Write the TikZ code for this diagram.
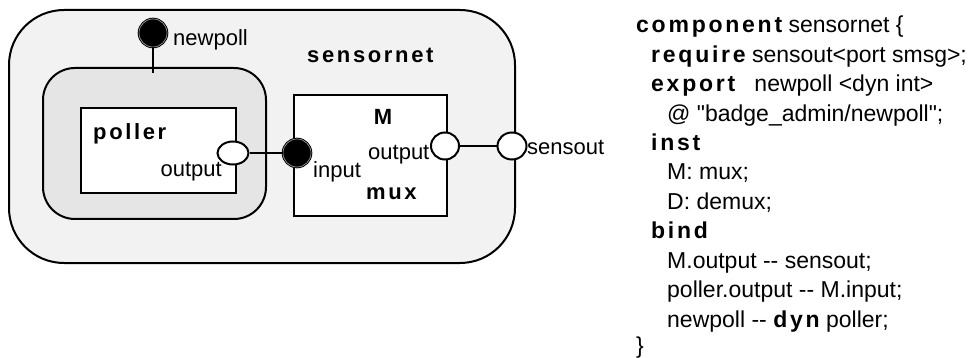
\documentclass[tikz,border=0pt]{standalone}
\usepackage{fontspec}
\setmainfont{Liberation Sans}
% same face without TeX input ligatures, so " and -- print as typed
\newfontfamily\lsf{Liberation Sans}
\usetikzlibrary{shapes.geometric}

% bold keywords are set a little letter-spaced
\newcommand\kw[1]{{\bfseries\addfontfeatures{LetterSpace=12}#1}}

\tikzset{
  box/.style={draw, line width=2pt, rectangle, inner sep=0pt},
  outerbox/.style={box, fill=gray!10, rounded corners=55pt},
  innerbox/.style={box, fill=gray!20, rounded corners=32pt},
  plainbox/.style={box, fill=white},
  portin/.style={circle, draw, fill=black, line width=1pt, double=gray!70,
                 double distance=0.6pt, minimum size=28pt, inner sep=0pt},
  portout/.style={ellipse, draw, fill=white, line width=2pt, inner sep=0pt},
  wire/.style={line width=2.5pt},
  lbl/.style={inner sep=0pt, font=\lsf\fontsize{22}{26}\selectfont},
  blbl/.style={lbl, font=\lsf\fontsize{22}{26}\selectfont\bfseries\addfontfeatures{LetterSpace=12}},
  code/.style={inner sep=0pt, anchor=base west, font=\lsf\fontsize{23}{28}\selectfont},
}

\begin{document}
\begin{tikzpicture}[x=1pt, y=-1pt]
  \useasboundingbox (0,0) rectangle (980,358);

  % containers and components
  \node[outerbox, minimum width=506pt, minimum height=253pt] (sensornet) at (262,136.5) {};
  \node[innerbox, minimum width=223pt, minimum height=151pt] (pollerwrap) at (154.5,143.5) {};
  \node[plainbox, minimum width=155pt, minimum height=85pt] (poller) at (158.5,150.5) {};
  \node[plainbox, minimum width=153pt, minimum height=121pt] (mux) at (370.5,155.5) {};

  % wire end inside the poller wrapper
  \coordinate (dynend) at (153,73);

  % ports
  \node[portin] (newpoll) at (153,33) {};
  \node[portout, minimum width=31pt, minimum height=23pt] (pollerout) at (233,153) {};
  \node[portin] (minput) at (297,153) {};
  \node[portout, minimum width=28pt, minimum height=27pt] (moutput) at (445,146) {};
  \node[portout, minimum width=29pt, minimum height=27pt] (sensout) at (512,146) {};

  % bindings
  \draw[wire] (newpoll) -- (dynend);
  \draw[wire] (pollerout) -- (minput);
  \draw[wire] (moutput) -- (sensout);

  % labels
  \node[lbl, anchor=base west] (newpolllbl) at (173,46) {newpoll};
  \node[blbl, anchor=base west] (sensornetlbl) at (307,63) {sensornet};
  \node[blbl, anchor=base west] (pollerlbl) at (93,140) {poller};
  \node[lbl, anchor=base east] (polleroutlbl) at (222,177) {output};
  \node[blbl, anchor=base] (mlbl) at (383,125) {M};
  \node[lbl, anchor=base west] (moutlbl) at (368,160) {output};
  \node[lbl, anchor=base west] (minlbl) at (313,178) {input};
  \node[blbl, anchor=base west] (muxlbl) at (366,200) {mux};
  \node[lbl, anchor=base west] (sensoutlbl) at (527,155) {sensout};

  % component description
  \node[code] (c0)  at (636,33)    {\kw{component} sensornet \{};
  \node[code] (c1)  at (651,62.4)  {\kw{require} sensout<port smsg>;};
  \node[code] (c2)  at (651,91.8)  {\kw{export}\ \ \ newpoll <dyn int>};
  \node[code] (c3)  at (667,121.2) {@ "badge\_admin/newpoll";};
  \node[code] (c4)  at (651,150.6) {\kw{inst}};
  \node[code] (c5)  at (667,180)   {M: mux;};
  \node[code] (c6)  at (667,209.4) {D: demux;};
  \node[code] (c7)  at (651,238.8) {\kw{bind}};
  \node[code] (c8)  at (667,268.2) {M.output -- sensout;};
  \node[code] (c9)  at (667,297.6) {poller.output -- M.input;};
  \node[code] (c10) at (667,327)   {newpoll -- \kw{dyn} poller;};
  \node[code] (c11) at (636,353)   {\}};
\end{tikzpicture}
\end{document}
